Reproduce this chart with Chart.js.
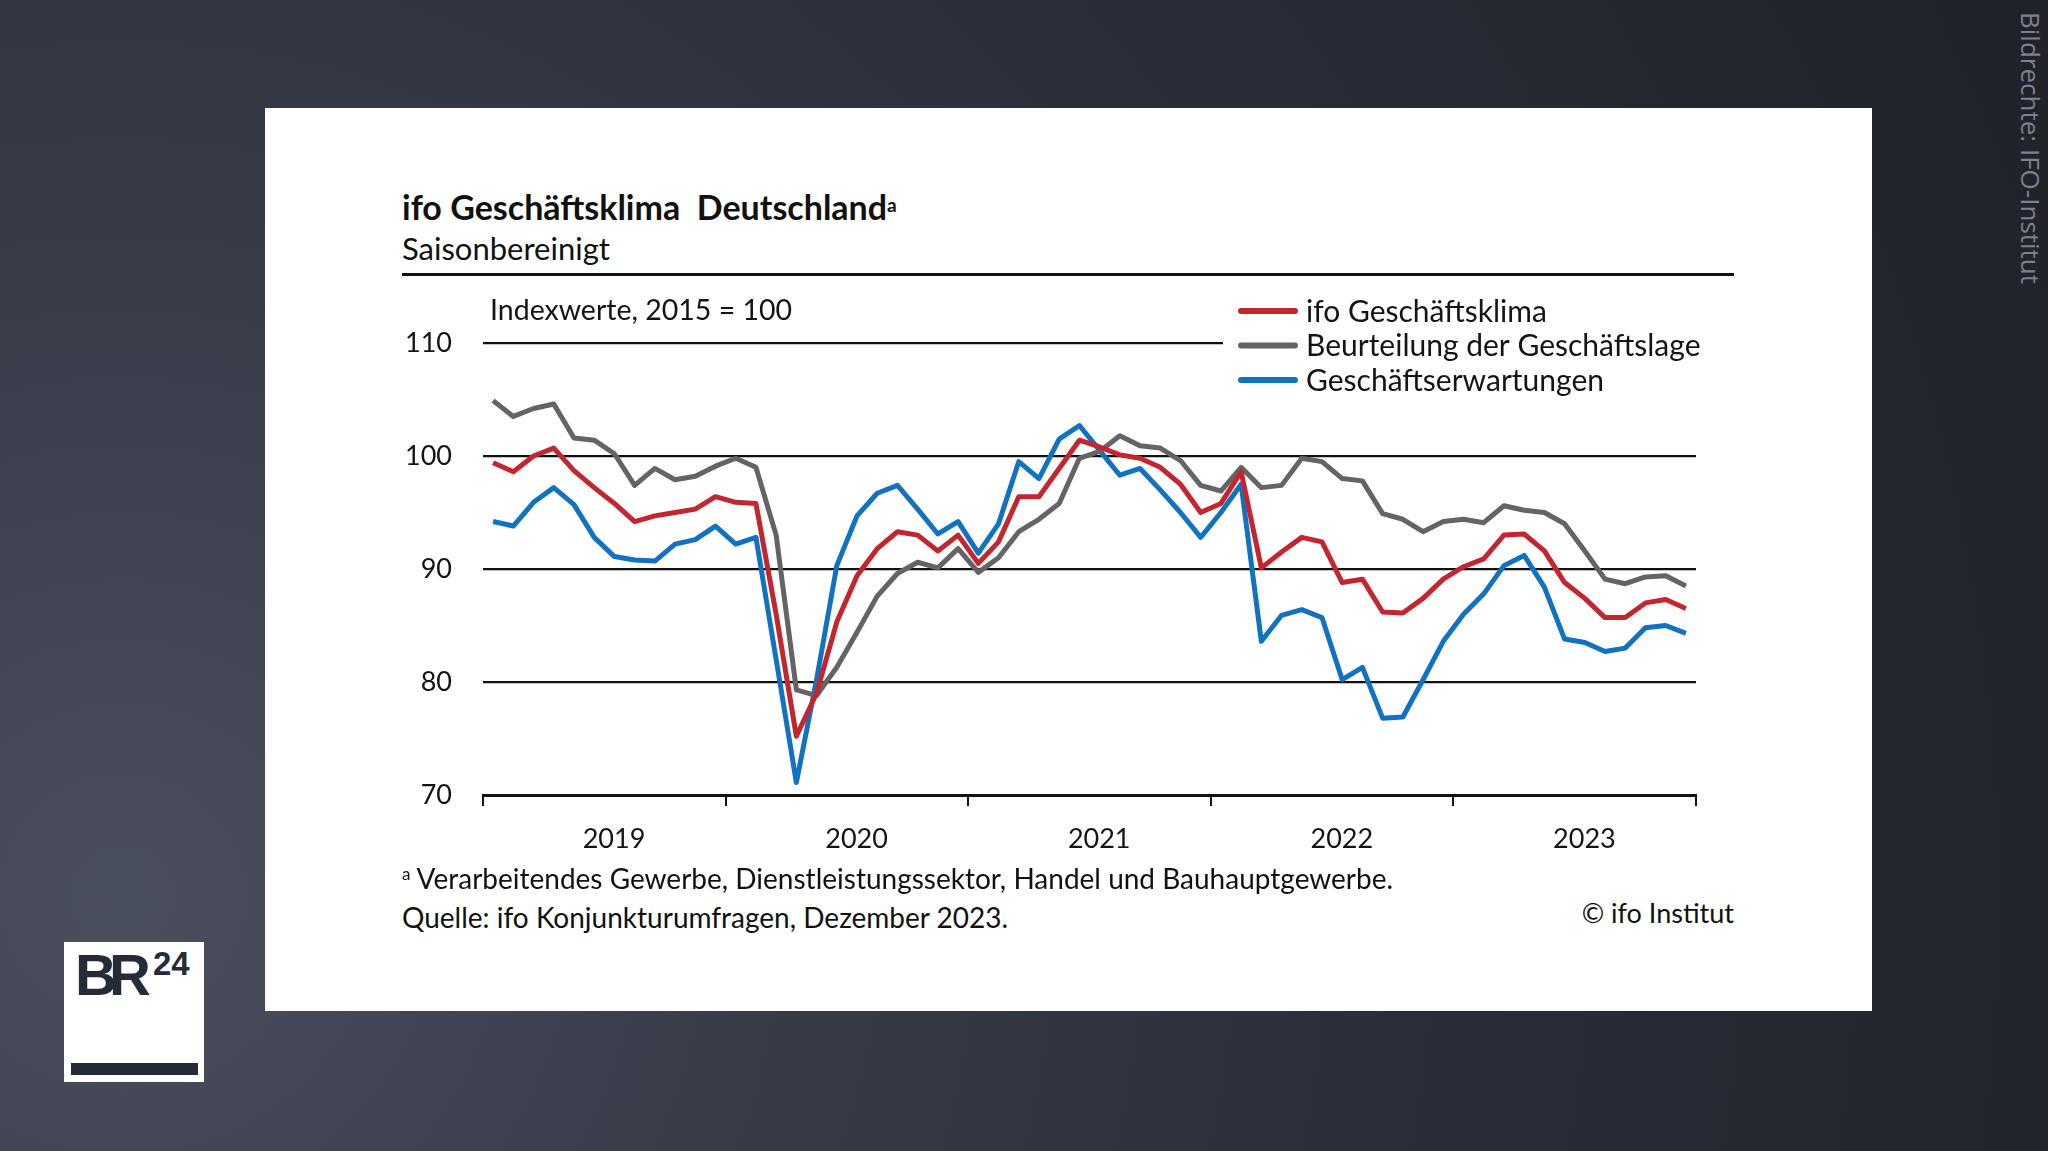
<!DOCTYPE html>
<html lang="de">
<head>
<meta charset="utf-8">
<script src="https://cdn.jsdelivr.net/npm/chart.js@4.4.1/dist/chart.umd.min.js"></script>
<style>
  html, body { margin: 0; padding: 0; }
  body {
    width: 2048px; height: 1151px; overflow: hidden; position: relative;
    background: radial-gradient(circle at 6% 78%, #4a4f5e 0%, #383c49 30%, #2b2e39 60%, #202229 100%);
    font-family: Lato, 'Noto Sans', sans-serif;
  }
  .card { position: absolute; left: 265px; top: 108px; width: 1607px; height: 903px; background: #fff; }
  .title { position: absolute; left: 137px; top: 82px; font-size: 34px; font-weight: 700; color: #111; line-height: 1; }
  .title sup { font-size: 19px; font-weight: 700; vertical-align: 8px; }
  .subtitle { position: absolute; left: 137px; top: 125px; font-size: 31px; color: #111; line-height: 1; }
  .rule { position: absolute; left: 137px; top: 165px; width: 1332px; height: 3px; background: #111; }
  .foot { position: absolute; left: 137px; font-size: 28px; color: #111; line-height: 1; }
  .foot sup { font-size: 17px; vertical-align: 9px; }
  .copy { position: absolute; right: 138px; top: 791px; font-size: 27px; color: #111; line-height: 1; }
  #chartWrap { position: absolute; left: 0; top: 172px; width: 1607px; height: 600px; }
  .watermark {
    position: absolute; left: 2013px; top: 12px; writing-mode: vertical-rl;
    font-family: 'Open Sans', sans-serif; font-size: 26px; color: #7d818d;
  }
  .logo { position: absolute; left: 64px; top: 942px; width: 140px; height: 140px; background: #fff; }
  .logo .br { position: absolute; left: 11px; top: -1px; font-family: 'Liberation Sans', sans-serif; font-weight: 700; font-size: 58px; color: #262b38; letter-spacing: -8px; }
  .logo .n { position: absolute; left: 89px; top: 3px; font-family: 'Liberation Sans', sans-serif; font-weight: 700; font-size: 33px; color: #262b38; }
  .logo .bar { position: absolute; left: 7px; top: 121px; width: 127px; height: 12px; background: #262b38; }
</style>
</head>
<body>
<div class="card">
  <div class="title">ifo Geschäftsklima&nbsp; Deutschland<sup>a</sup></div>
  <div class="subtitle">Saisonbereinigt</div>
  <div class="rule"></div>
  <div id="chartWrap"><canvas id="ifoChart" width="1607" height="600"></canvas></div>
  <div class="foot" style="top:756px"><sup>a</sup> Verarbeitendes Gewerbe, Dienstleistungssektor, Handel und Bauhauptgewerbe.</div>
  <div class="foot" style="top:795px">Quelle: ifo Konjunkturumfragen, Dezember 2023.</div>
  <div class="copy">© ifo Institut</div>
</div>
<div class="watermark">Bildrechte: IFO-Institut</div>
<div class="logo"><span class="br">BR</span><span class="n">24</span><div class="bar"></div></div>

<script>
// ── Data (monthly, Jan 2019 – Dec 2023, 2015 = 100) ──
const YEARS = ['2019', '2020', '2021', '2022', '2023'];
const MONTHS = ['Jan','Feb','Mär','Apr','Mai','Jun','Jul','Aug','Sep','Okt','Nov','Dez'];

const KLIMA = [
  99.4, 98.6, 100.0, 100.7, 98.7, 97.2, 95.8, 94.2, 94.7, 95.0, 95.3, 96.4,
  95.9, 95.8, 86.0, 75.2, 79.0, 85.3, 89.4, 91.8, 93.3, 93.0, 91.6, 93.0,
  90.5, 92.4, 96.4, 96.4, 98.9, 101.4, 100.8, 100.1, 99.8, 99.0, 97.5, 95.0,
  95.8, 98.6, 90.1, 91.5, 92.8, 92.4, 88.8, 89.1, 86.2, 86.1, 87.4, 89.1,
  90.2, 90.9, 93.0, 93.1, 91.6, 88.8, 87.4, 85.7, 85.7, 87.0, 87.3, 86.5
];
const LAGE = [
  104.9, 103.5, 104.2, 104.6, 101.6, 101.4, 100.2, 97.4, 98.9, 97.9, 98.2, 99.1,
  99.8, 99.0, 93.0, 79.3, 78.8, 81.3, 84.4, 87.6, 89.6, 90.6, 90.1, 91.8,
  89.7, 91.0, 93.3, 94.4, 95.8, 99.8, 100.4, 101.8, 100.9, 100.7, 99.6, 97.4,
  96.9, 99.0, 97.2, 97.4, 99.8, 99.5, 98.0, 97.8, 94.9, 94.4, 93.3, 94.2,
  94.4, 94.1, 95.6, 95.2, 95.0, 94.0, 91.6, 89.1, 88.7, 89.3, 89.4, 88.5
];
const ERWARTUNGEN = [
  94.2, 93.8, 95.9, 97.2, 95.7, 92.8, 91.1, 90.8, 90.7, 92.2, 92.6, 93.8,
  92.2, 92.8, 82.0, 71.1, 80.2, 90.3, 94.7, 96.7, 97.4, 95.3, 93.1, 94.2,
  91.4, 94.0, 99.5, 98.0, 101.5, 102.7, 100.5, 98.3, 98.9, 97.0, 95.0, 92.8,
  95.0, 97.5, 83.6, 85.9, 86.4, 85.7, 80.2, 81.3, 76.8, 76.9, 80.2, 83.6,
  86.0, 87.8, 90.3, 91.2, 88.4, 83.8, 83.5, 82.7, 83.0, 84.8, 85.0, 84.3
];
const Y_TICKS = [70, 80, 90, 100, 110];

const SERIES_LABELS = ['ifo Geschäftsklima', 'Beurteilung der Geschäftslage', 'Geschäftserwartungen'];
const COLORS = ['#c3262f', '#646464', '#1172c2'];

// month labels and x positions (middle of each month on a linear axis)
const monthLabels = YEARS.flatMap(y => MONTHS.map(m => m + ' ' + y));
const toPoints = arr => arr.map((v, i) => ({ x: i + 0.5, y: v, label: monthLabels[i] }));

const TEXT = '#141414';
const FONT = 'Lato';

// ── custom legend + axis note, drawn over the grid like the ifo original ──
const ifoLegend = {
  id: 'ifoLegend',
  beforeDatasetsDraw(chart) {
    const ctx = chart.ctx;
    ctx.save();
    // white box behind the legend (cuts the 110 line)
    ctx.fillStyle = '#fff';
    ctx.fillRect(958, 12, 640, 105);

    ctx.font = `28.5px ${FONT}`;
    ctx.fillStyle = TEXT;
    ctx.textBaseline = 'middle';
    ctx.fillText('Indexwerte, 2015 = 100', 225, 31);

    ctx.font = `30px ${FONT}`;
    chart.data.datasets.forEach((ds, i) => {
      const y = 31 + i * 34.5;
      ctx.strokeStyle = ds.borderColor;
      ctx.lineWidth = 6;
      ctx.lineCap = 'round';
      ctx.beginPath();
      ctx.moveTo(976, y);
      ctx.lineTo(1030, y);
      ctx.stroke();
      ctx.fillText(ds.label, 1041, y + 1);
    });
    ctx.restore();
  }
};

Chart.defaults.font.family = FONT;

new Chart(document.getElementById('ifoChart').getContext('2d'), {
  type: 'line',
  data: {
    datasets: [
      { label: SERIES_LABELS[0], data: toPoints(KLIMA), borderColor: COLORS[0], order: 0 },
      { label: SERIES_LABELS[1], data: toPoints(LAGE), borderColor: COLORS[1], order: 1 },
      { label: SERIES_LABELS[2], data: toPoints(ERWARTUNGEN), borderColor: COLORS[2], order: 2 },
    ].map(d => ({ ...d, borderWidth: 5, pointRadius: 0, tension: 0, fill: false, borderJoinStyle: 'round' }))
  },
  options: {
    responsive: false,
    animation: false,
    events: [],
    layout: { padding: { top: 63, right: 176, left: 0, bottom: 0 } },
    plugins: { legend: { display: false }, tooltip: { enabled: false } },
    scales: {
      x: {
        type: 'linear', min: 0, max: YEARS.length * 12,
        afterFit: s => { s.height = 85; },
        afterBuildTicks: s => { s.ticks = YEARS.map((_, i) => ({ value: i * 12 })).concat([{ value: YEARS.length * 12 }]); },
        border: { display: true, color: '#111', width: 3 },
        grid: { drawOnChartArea: false, drawTicks: true, tickLength: 11, color: '#111', lineWidth: 2 },
        ticks: {
          callback: v => YEARS[v / 12] || '',
          labelOffset: 131, padding: 17, maxRotation: 0, autoSkip: false,
          font: { size: 27 }, color: TEXT
        }
      },
      y: {
        min: Y_TICKS[0], max: Y_TICKS[Y_TICKS.length - 1],
        afterFit: s => { s.width = 218; },
        afterBuildTicks: s => { s.ticks = Y_TICKS.map(v => ({ value: v })); },
        border: { display: false },
        grid: { color: c => c.tick && c.tick.value === Y_TICKS[0] ? 'rgba(0,0,0,0)' : '#111', lineWidth: 2.2, drawTicks: false },
        ticks: { padding: 31, font: { size: 27 }, color: TEXT }
      }
    }
  },
  plugins: [ifoLegend]
});
</script>
</body>
</html>
